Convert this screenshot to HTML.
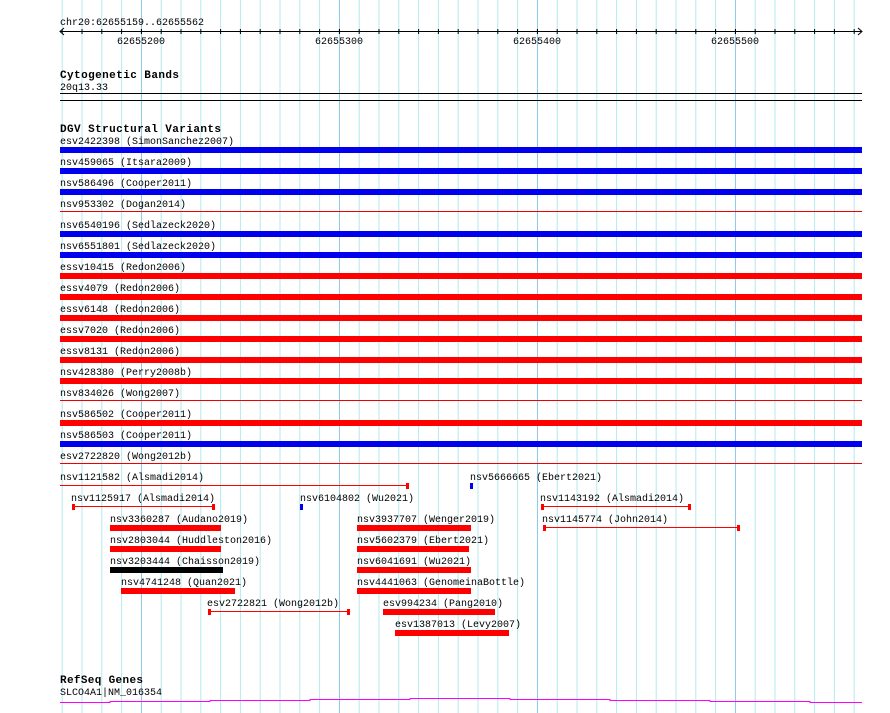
<!DOCTYPE html>
<html><head><meta charset="utf-8"><style>
html,body{margin:0;padding:0;background:#fff;}
svg{display:block;}
text{font-family:"Liberation Mono","DejaVu Sans Mono",monospace;font-size:10px;fill:#000;}
.b{font-weight:bold;font-size:11px;}
</style></head><body>
<svg width="890" height="713" viewBox="0 0 890 713" xmlns="http://www.w3.org/2000/svg">
<defs>
<pattern id="g" x="2.3" y="0" width="19.8" height="713" patternUnits="userSpaceOnUse">
<rect x="0" y="0" width="1" height="713" fill="#b4eaf0"/>
</pattern>
<pattern id="t" x="2.3" y="0" width="19.8" height="40" patternUnits="userSpaceOnUse">
<rect x="0" y="29" width="1" height="5" fill="#000"/>
</pattern>
</defs>
<rect x="60" y="0" width="800" height="713" fill="url(#g)"/>
<g fill="#94c8e8">
<rect x="141" y="0" width="1" height="713"/><rect x="339" y="0" width="1" height="713"/>
<rect x="537" y="0" width="1" height="713"/><rect x="735" y="0" width="1" height="713"/>
</g>
<text x="60" y="25">chr20:62655159..62655562</text>
<rect x="60" y="31" width="802" height="1" fill="#000"/>
<rect x="62" y="0" width="794" height="40" fill="url(#t)"/>
<rect x="141" y="29" width="1" height="5" fill="#000"/><rect x="339" y="29" width="1" height="5" fill="#000"/>
<rect x="537" y="29" width="1" height="5" fill="#000"/><rect x="735" y="29" width="1" height="5" fill="#000"/>
<path d="M64 28 L60 31.5 L64 35 M858 28 L862 31.5 L858 35" stroke="#000" fill="none"/>
<text x="117" y="44">62655200</text><text x="315" y="44">62655300</text>
<text x="513" y="44">62655400</text><text x="711" y="44">62655500</text>

<text class="b" x="60" y="78" textLength="119">Cytogenetic Bands</text>
<text x="60" y="90">20q13.33</text>
<rect x="60" y="93" width="802" height="1" fill="#000"/>
<rect x="60" y="100" width="802" height="1" fill="#000"/>

<text class="b" x="60" y="132" textLength="161">DGV Structural Variants</text>
<g>
<text x="60" y="144">esv2422398 (SimonSanchez2007)</text><rect x="60" y="147" width="802" height="6" fill="#0000ee"/>
<text x="60" y="165">nsv459065 (Itsara2009)</text><rect x="60" y="168" width="802" height="6" fill="#0000ee"/>
<text x="60" y="186">nsv586496 (Cooper2011)</text><rect x="60" y="189" width="802" height="6" fill="#0000ee"/>
<text x="60" y="207">nsv953302 (Dogan2014)</text><rect x="60" y="211" width="802" height="1" fill="#e00"/>
<text x="60" y="228">nsv6540196 (Sedlazeck2020)</text><rect x="60" y="231" width="802" height="6" fill="#0000ee"/>
<text x="60" y="249">nsv6551801 (Sedlazeck2020)</text><rect x="60" y="252" width="802" height="6" fill="#0000ee"/>
<text x="60" y="270">essv10415 (Redon2006)</text><rect x="60" y="273" width="802" height="6" fill="#f00"/>
<text x="60" y="291">essv4079 (Redon2006)</text><rect x="60" y="294" width="802" height="6" fill="#f00"/>
<text x="60" y="312">essv6148 (Redon2006)</text><rect x="60" y="315" width="802" height="6" fill="#f00"/>
<text x="60" y="333">essv7020 (Redon2006)</text><rect x="60" y="336" width="802" height="6" fill="#f00"/>
<text x="60" y="354">essv8131 (Redon2006)</text><rect x="60" y="357" width="802" height="6" fill="#f00"/>
<text x="60" y="375">nsv428380 (Perry2008b)</text><rect x="60" y="378" width="802" height="6" fill="#f00"/>
<text x="60" y="396">nsv834026 (Wong2007)</text><rect x="60" y="400" width="802" height="1" fill="#e00"/>
<text x="60" y="417">nsv586502 (Cooper2011)</text><rect x="60" y="420" width="802" height="6" fill="#f00"/>
<text x="60" y="438">nsv586503 (Cooper2011)</text><rect x="60" y="441" width="802" height="6" fill="#0000ee"/>
<text x="60" y="459">esv2722820 (Wong2012b)</text><rect x="60" y="463" width="802" height="1" fill="#e00"/>
</g>

<g fill="#f00">
<text x="60" y="480">nsv1121582 (Alsmadi2014)</text>
<rect x="60" y="485" width="348" height="1"/><rect x="406" y="483" width="3" height="6"/>
<text x="470" y="480">nsv5666665 (Ebert2021)</text>
<rect x="470" y="483" width="3" height="6" fill="#0000ee"/>

<text x="71" y="501">nsv1125917 (Alsmadi2014)</text>
<rect x="72" y="506" width="142" height="1"/><rect x="72" y="504" width="3" height="6"/><rect x="212" y="504" width="3" height="6"/>
<text x="300" y="501">nsv6104802 (Wu2021)</text>
<rect x="300" y="504" width="3" height="6" fill="#0000ee"/>
<text x="540" y="501">nsv1143192 (Alsmadi2014)</text>
<rect x="541" y="506" width="149" height="1"/><rect x="541" y="504" width="3" height="6"/><rect x="688" y="504" width="3" height="6"/>

<text x="110" y="522">nsv3360287 (Audano2019)</text><rect x="110" y="525" width="111" height="6"/>
<text x="357" y="522">nsv3937707 (Wenger2019)</text><rect x="357" y="525" width="114" height="6"/>
<text x="542" y="522">nsv1145774 (John2014)</text>
<rect x="543" y="527" width="196" height="1"/><rect x="543" y="525" width="3" height="6"/><rect x="737" y="525" width="3" height="6"/>

<text x="110" y="543">nsv2803044 (Huddleston2016)</text><rect x="110" y="546" width="111" height="6"/>
<text x="357" y="543">nsv5602379 (Ebert2021)</text><rect x="357" y="546" width="112" height="6"/>

<text x="110" y="564">nsv3203444 (Chaisson2019)</text><rect x="110" y="567" width="113" height="6" fill="#000"/>
<text x="357" y="564">nsv6041691 (Wu2021)</text><rect x="357" y="567" width="114" height="6"/>

<text x="121" y="585">nsv4741248 (Quan2021)</text><rect x="121" y="588" width="114" height="6"/>
<text x="357" y="585">nsv4441063 (GenomeinaBottle)</text><rect x="357" y="588" width="114" height="6"/>

<text x="207" y="606">esv2722821 (Wong2012b)</text>
<rect x="208" y="611" width="141" height="1"/><rect x="208" y="609" width="3" height="6"/><rect x="347" y="609" width="3" height="6"/>
<text x="383" y="606">esv994234 (Pang2010)</text><rect x="383" y="609" width="112" height="6"/>

<text x="395" y="627">esv1387013 (Levy2007)</text><rect x="395" y="630" width="114" height="6"/>
</g>

<text class="b" x="60" y="683" textLength="83">RefSeq Genes</text>
<text x="60" y="695">SLCO4A1|NM_016354</text>
<path d="M60 702.5 H110 V701.5 H210 V700.5 H310 V699.5 H410 V698.5 H510 V699.5 H610 V700.5 H710 V701.5 H810 V702.5 H862" stroke="#f0f" fill="none"/>
</svg>
</body></html>
